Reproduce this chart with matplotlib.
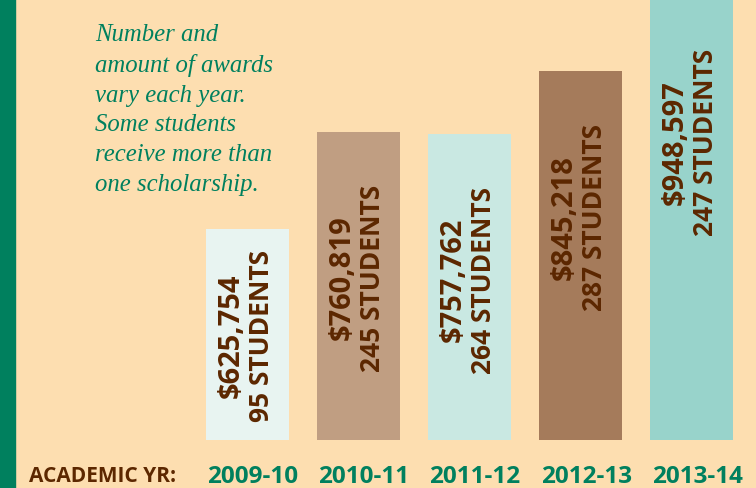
import matplotlib.pyplot as plt
from matplotlib.patches import Rectangle
from matplotlib.transforms import blended_transform_factory

# data
years = ['2009-10', '2010-11', '2011-12', '2012-13', '2013-14']
amounts = [625754, 760819, 757762, 845218, 948597]
students = [95, 245, 264, 287, 247]
bar_colors = ['#E8F4F1', '#C09E82', '#C9E8E2', '#A57B5B', '#98D3CB']
note = ("Number and\namount of awards\nvary each year.\n"
        "Some students\nreceive more than\none scholarship.")

bg = '#FDDEB0'
green = '#00805E'
brown = '#5C2700'
bold_font = 'Open Sans'

fig = plt.figure(figsize=(7.56, 4.89), dpi=100, facecolor=bg)
fig.patches.append(Rectangle((0, 0), 15 / 756, 1, transform=fig.transFigure,
                             color=green, zorder=0))

ax = fig.add_axes([192 / 756, 48 / 489, 555 / 756, 441 / 489])
base = 333000
scale = 0.00072  # px per dollar
ax.bar(range(len(years)), [a - base for a in amounts], bottom=base,
       width=0.748, color=bar_colors, clip_on=False)
ax.set_xlim(-0.5, 4.5)
ax.set_ylim(base, base + 441 / scale)
ax.axis('off')

# labels inside bars
for i, (a, n) in enumerate(zip(amounts, students)):
    yc = max((a + base) / 2, a - 145 / scale)
    ax.text(i - 0.15, yc, '${:,}'.format(a), rotation=90, ha='center',
            va='center', fontsize=21, fontweight='bold', family=bold_font,
            color=brown)
    ax.text(i + 0.13, yc, '{} STUDENTS'.format(n), rotation=90,
            ha='center', va='center', fontsize=19, fontweight='bold',
            family=bold_font, color=brown)

# x labels
tr = blended_transform_factory(ax.transData, fig.transFigure)
for i, y in enumerate(years):
    ax.text(i + 0.05, 12 / 489, y, transform=tr, ha='center', va='center',
            fontsize=17.5, fontweight='bold', family=bold_font, color=green)
fig.text(29 / 756, 12 / 489, 'ACADEMIC YR:', ha='left', va='center',
         fontsize=15, fontweight='bold', family=bold_font, color=brown)

fig.text(95 / 756, 1 - 24 / 489, note, ha='left', va='top',
         family='Liberation Serif', style='italic', fontsize=17.8,
         color=green, linespacing=1.45)

fig.savefig('out.png', dpi=100, facecolor=bg)
